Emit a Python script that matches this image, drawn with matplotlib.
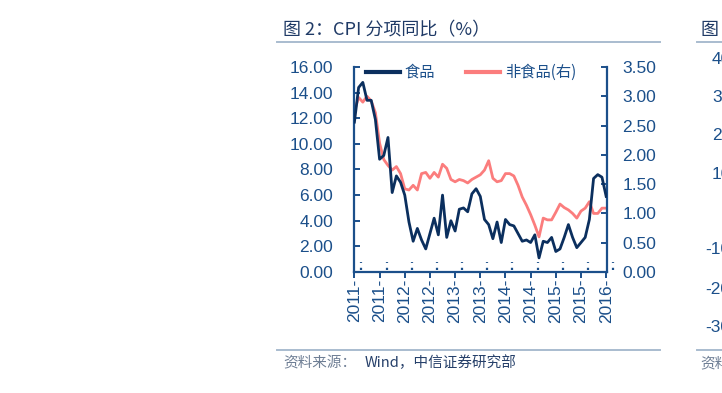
import matplotlib
matplotlib.use("Agg")
import matplotlib.pyplot as plt
import matplotlib.transforms as mtransforms
from matplotlib.lines import Line2D

# ---------------- data ----------------
months = [f"{2011 + (4 + i) // 12}-{(4 + i) % 12 + 1:02d}" for i in range(61)]  # 2011-05 .. 2016-05
food = [11.7, 14.4, 14.8, 13.4, 13.4, 11.9, 8.8, 9.1,
        10.5, 6.2, 7.5, 7.0, 6.0, 3.9, 2.4, 3.4, 2.5, 1.8, 3.0, 4.2,
        2.9, 6.0, 2.7, 4.0, 3.2, 4.9, 5.0, 4.7, 6.1, 6.5, 5.9, 4.1,
        3.7, 2.6, 3.9, 2.3, 4.1, 3.7, 3.6, 3.0, 2.4, 2.5, 2.3, 2.9,
        1.1, 2.4, 2.3, 2.7, 1.6, 1.8, 2.7, 3.7, 2.7, 1.9, 2.3, 2.7,
        4.1, 7.3, 7.6, 7.4, 5.9]
nonfood = [2.75, 2.98, 2.90, 3.00, 2.92, 2.72, 2.20, 1.92,
           1.82, 1.74, 1.80, 1.68, 1.42, 1.40, 1.48, 1.40, 1.68, 1.70, 1.60, 1.70,
           1.62, 1.84, 1.77, 1.58, 1.54, 1.58, 1.56, 1.52, 1.58, 1.62, 1.66, 1.74,
           1.90, 1.60, 1.54, 1.56, 1.68, 1.68, 1.64, 1.48, 1.28, 1.14, 0.98, 0.80,
           0.60, 0.92, 0.89, 0.89, 1.02, 1.16, 1.10, 1.06, 1.00, 0.92, 1.04, 1.09,
           1.20, 1.00, 1.00, 1.09, 1.09]
tick_idx = list(range(0, 61, 6))
tick_labels = ["2011-", "2011-", "2012-", "2012-", "2013-", "2013-",
               "2014-", "2014-", "2015-", "2015-", "2016-"]
left_ticks = [0, 2, 4, 6, 8, 10, 12, 14, 16]
right_ticks = [0, 0.5, 1.0, 1.5, 2.0, 2.5, 3.0, 3.5]
series_names = ["食品", "非食品(右)"]
title = "图 2：CPI 分项同比（%）"
source_a = "资料来源："
source_b = "Wind，中信证券研究部"
next_labels = ["40", "30", "20", "10", "-10", "-20", "-30"]

# ---------------- style ----------------
NAVY = "#0b2f5e"
AX = "#1b4f8a"
RED = "#fb7d7d"
CJK = ["Noto Sans CJK SC", "DejaVu Sans"]
LAT = ["Liberation Sans", "DejaVu Sans"]

W, H = 722, 393
fig = plt.figure(figsize=(W / 100, H / 100), dpi=100)
L, R, T, B = 354, 607, 67, 272
ax = fig.add_axes([L / W, 1 - B / H, (R - L) / W, (B - T) / H])
ax2 = ax.twinx()

x = list(range(len(months)))
ax2.plot(x, nonfood, color=RED, lw=2.0, solid_joinstyle="round", zorder=2)
ax.plot(x, food, color=NAVY, lw=2.0, solid_joinstyle="round", zorder=3)
ax.set_zorder(ax2.get_zorder() + 1)
ax.patch.set_visible(False)

ax.set_xlim(-0.1, 60.2)
ax.set_ylim(0, 16)
ax2.set_ylim(0, 3.5)
ax.set_yticks(left_ticks)
ax.set_yticklabels([f"{v:.2f}" for v in left_ticks])
ax2.set_yticks(right_ticks)
ax2.set_yticklabels([f"{v:.2f}" for v in right_ticks])
ax.set_xticks(tick_idx)
ax.set_xticklabels(tick_labels, rotation=90)

for a in (ax, ax2):
    a.spines["top"].set_visible(False)
    for s in ("left", "right", "bottom"):
        a.spines[s].set_color(AX)
        a.spines[s].set_linewidth(1.6)
ax.spines["right"].set_visible(False)
ax2.spines["left"].set_visible(False)
ax2.spines["bottom"].set_visible(False)

ax.tick_params(axis="y", direction="in", length=4, width=1.4, color=AX,
               labelcolor=AX, labelsize=12.5, pad=15)
ax2.tick_params(axis="y", direction="in", length=4, width=1.4, color=AX,
                labelcolor=AX, labelsize=12.5, pad=11)
ax.tick_params(axis="x", direction="out", length=4, width=1.4, color=AX,
               labelcolor=AX, labelsize=12.5, pad=1)
for lab in ax.get_yticklabels() + ax2.get_yticklabels() + ax.get_xticklabels():
    lab.set_family(LAT)

# dotted marks just right of each x tick
off = mtransforms.offset_copy(ax.transData, fig=fig, x=7, y=0, units="dots")
for t in tick_idx:
    ax.plot([t, t], [0.15, 0.75], transform=off, color=AX, lw=1.6,
            linestyle=(0, (1, 2.2)), clip_on=False)

# legend
leg_items = [Line2D([], [], color=NAVY, lw=3.0), Line2D([], [], color=RED, lw=3.0)]
leg = ax.legend(leg_items, series_names, loc="upper left",
                bbox_to_anchor=((366 - L) / (R - L), (B - 64) / (B - T)),
                ncol=2, frameon=False, handlelength=2.2, handletextpad=0.35,
                columnspacing=2.0, borderpad=0, borderaxespad=0,
                prop={"family": CJK, "size": 11})
for t in leg.get_texts():
    t.set_color(AX)

# title, rules, source
fig.text(283 / W, 1 - 30 / H, title, fontsize=13, color="#1f3a66", family=CJK,
         va="center", ha="left")
fig.add_artist(Line2D([277 / W, 660 / W], [1 - 42 / H, 1 - 42 / H], color="#a9bccf", lw=1.4))
fig.add_artist(Line2D([277 / W, 660 / W], [1 - 350 / H, 1 - 350 / H], color="#a9bccf", lw=1.4))
fig.text(283 / W, 1 - 363 / H, source_a, fontsize=10.5, color="#6f7f95", family=CJK,
         va="center", ha="left")
fig.text(365 / W, 1 - 363 / H, source_b, fontsize=10.5, color="#26406a", family=CJK,
         va="center", ha="left")

# partial neighbouring chart at right edge
fig.text(700 / W, 1 - 30 / H, "图", fontsize=13, color="#1f3a66", family=CJK,
         va="center", ha="left")
fig.add_artist(Line2D([697 / W, 1.0], [1 - 42 / H, 1 - 42 / H], color="#a9bccf", lw=1.4))
fig.add_artist(Line2D([697 / W, 1.0], [1 - 350 / H, 1 - 350 / H], color="#a9bccf", lw=1.4))
fig.text(700 / W, 1 - 363 / H, "资料", fontsize=10.5, color="#6f7f95", family=CJK,
         va="center", ha="left")
for lab, yy in zip(next_labels, [60, 98, 136, 174, 250, 289, 327]):
    xx = 712 if not lab.startswith("-") else 705
    fig.text(xx / W, 1 - yy / H, lab, fontsize=12.5, color=AX, family=LAT,
             va="center", ha="left")

fig.savefig("out.png", dpi=100)
